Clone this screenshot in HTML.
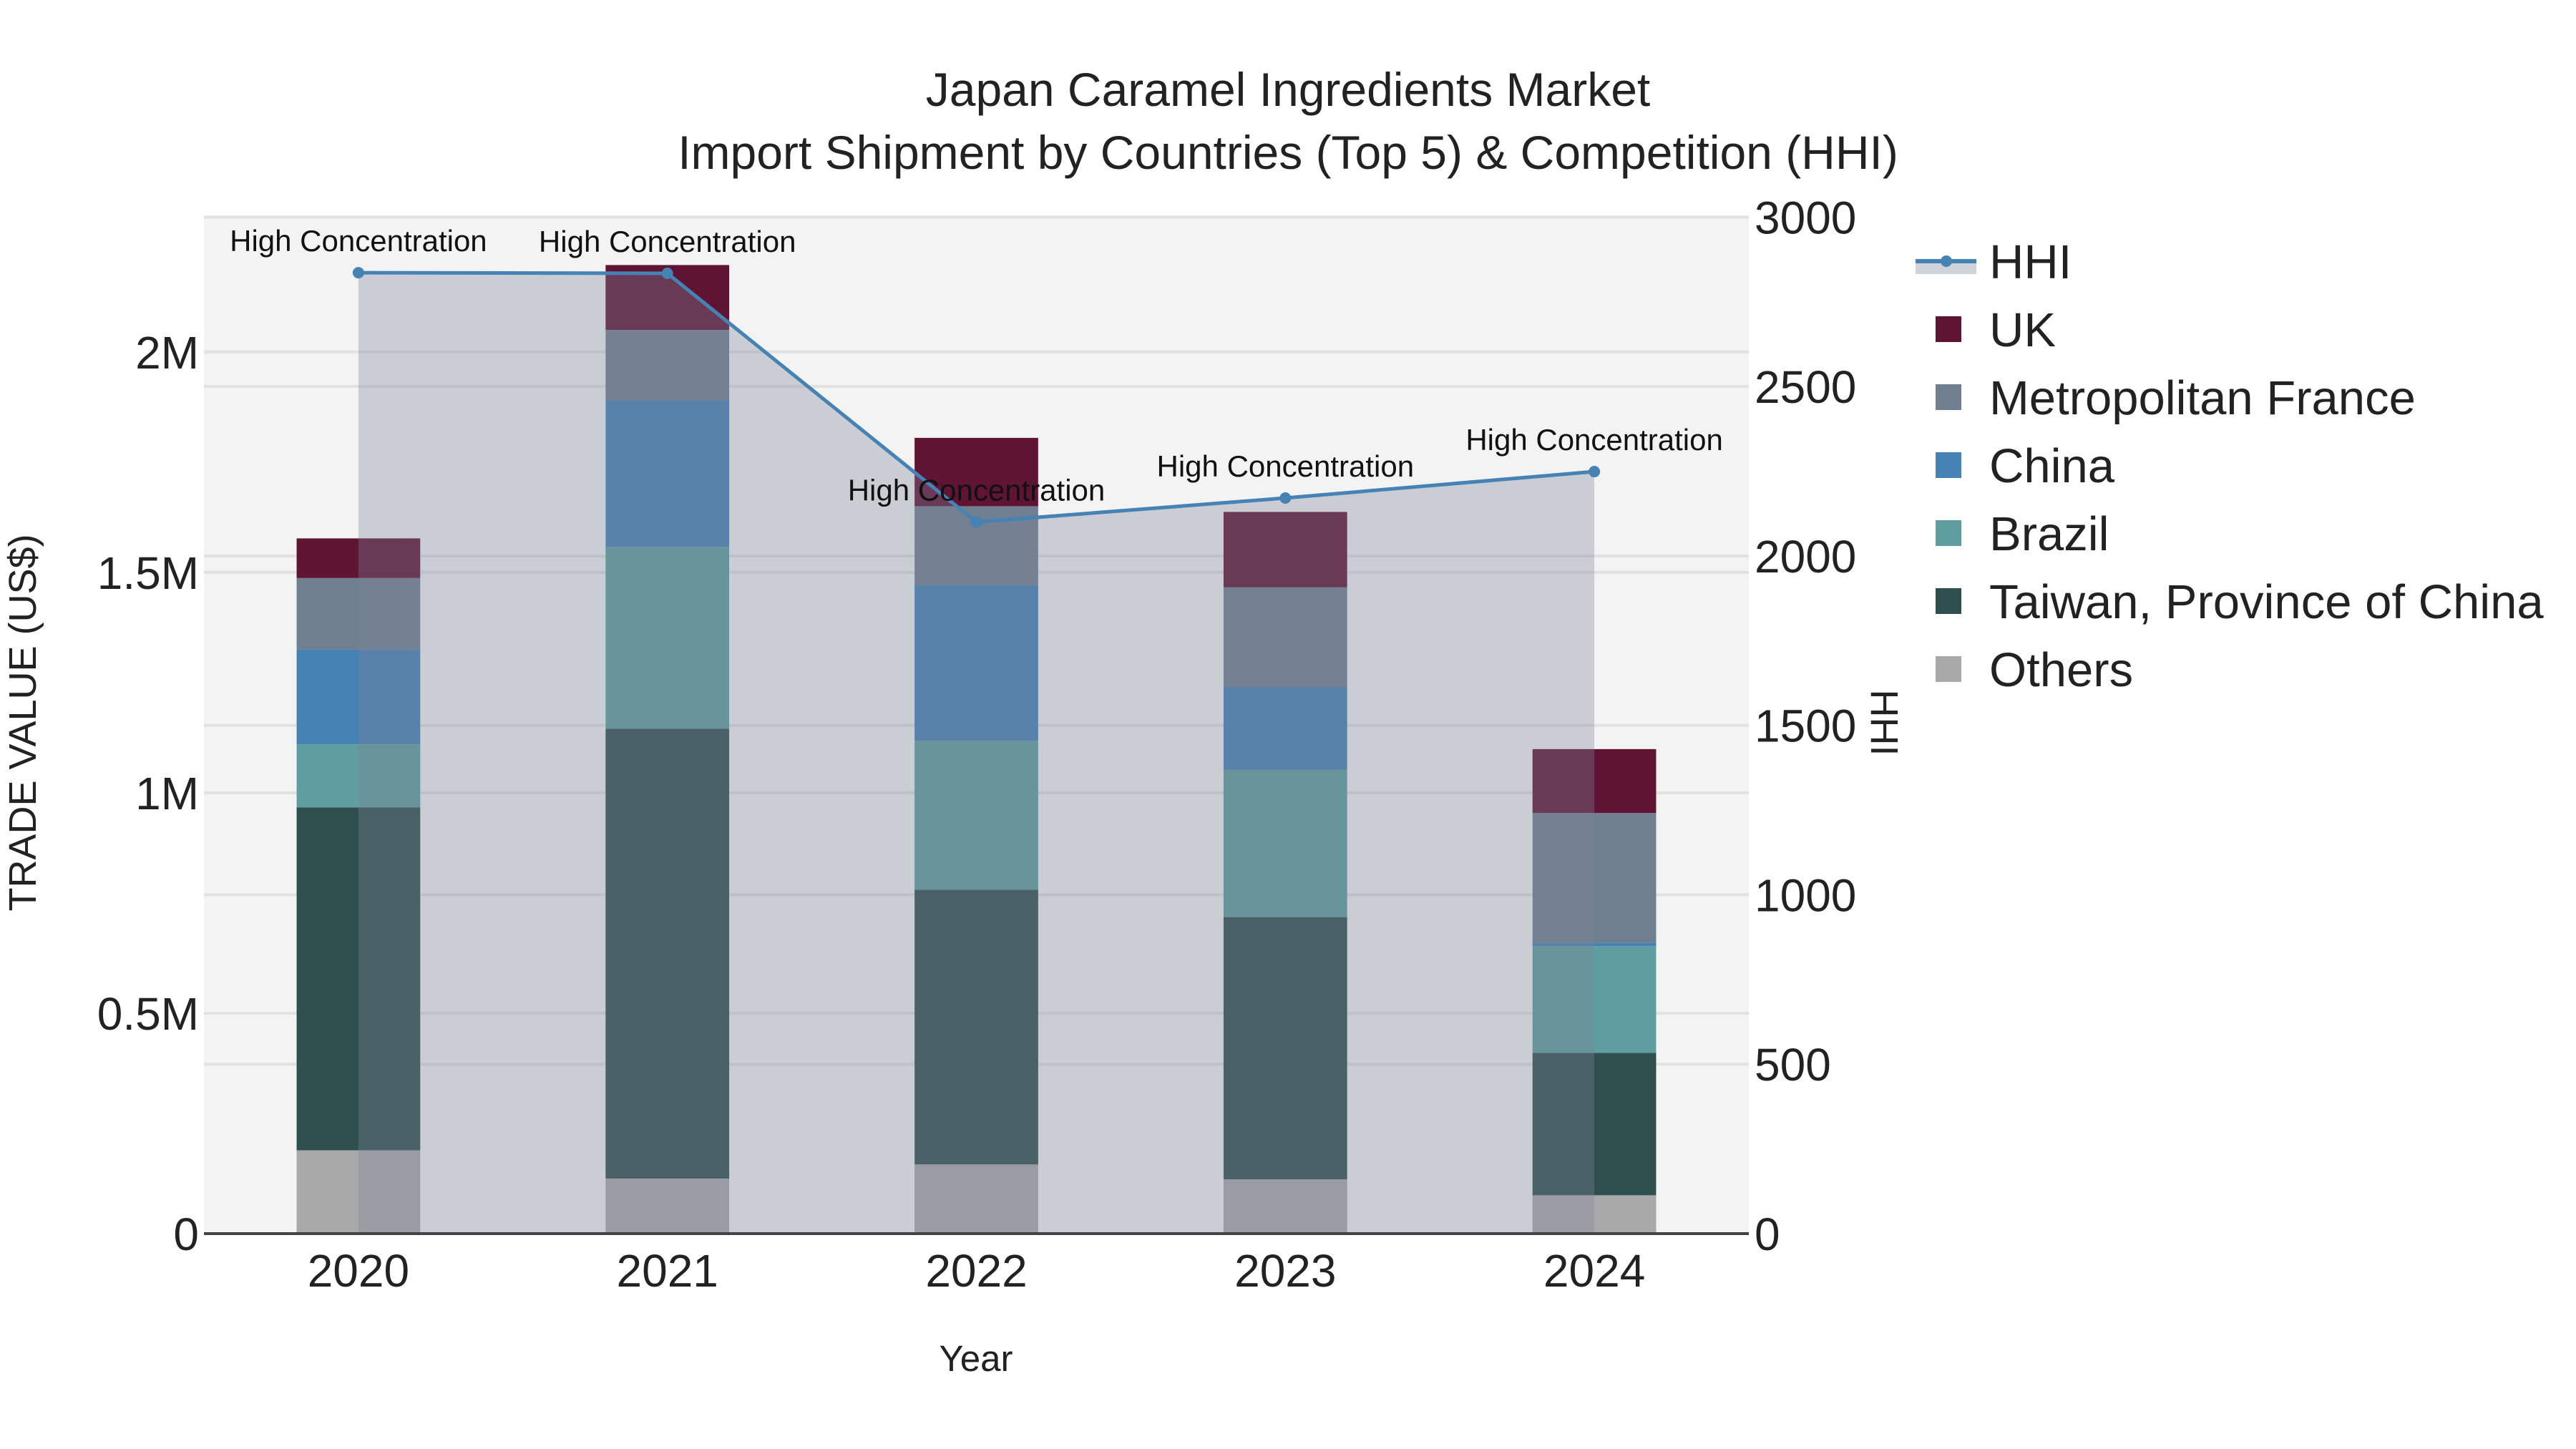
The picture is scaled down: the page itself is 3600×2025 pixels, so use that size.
<!DOCTYPE html>
<html><head><meta charset="utf-8">
<style>
html,body{margin:0;padding:0;background:#fff;}
svg{display:block;font-family:"Liberation Sans",sans-serif;}
</style></head>
<body>
<svg id="chart" width="3600" height="2025" viewBox="0 0 3600 2025" xmlns="http://www.w3.org/2000/svg">
<text x="1800" y="148" font-size="66" text-anchor="middle" fill="#222">Japan Caramel Ingredients Market</text>
<text x="1800" y="236" font-size="66" text-anchor="middle" fill="#222">Import Shipment by Countries (Top 5) &amp; Competition (HHI)</text>
<rect x="285" y="302" width="2159" height="1422" fill="#f3f3f3"/>
<g id="grid"></g>
<g id="bars"></g>
<g id="hhi"></g>
<g id="axes"></g>
<text transform="translate(50,1010) rotate(-90)" font-size="54" text-anchor="middle" fill="#222">TRADE VALUE (US$)</text>
<text transform="translate(2615,1010) rotate(90)" font-size="54" text-anchor="middle" fill="#222">HHI</text>
<text x="1364" y="1916" font-size="51" text-anchor="middle" fill="#222">Year</text>
<g id="legend"></g>
</svg>
<script>
const years = ['2020','2021','2022','2023','2024'];
const others = [0.189, 0.125, 0.157, 0.123, 0.087];
const taiwan = [0.778, 1.020, 0.623, 0.595, 0.323];
const brazil = [0.143, 0.412, 0.338, 0.334, 0.242];
const china = [0.215, 0.333, 0.353, 0.188, 0.008];
const france = [0.162, 0.160, 0.179, 0.226, 0.294];
const uk = [0.090, 0.147, 0.155, 0.171, 0.145];
const hhi = [2836, 2834, 2100, 2171, 2249];
const hhiLabels = ['High Concentration','High Concentration','High Concentration','High Concentration','High Concentration'];
const yTicks = [0, 0.5, 1, 1.5, 2];
const yTickLabels = ['0','0.5M','1M','1.5M','2M'];
const y2Ticks = [0, 500, 1000, 1500, 2000, 2500, 3000];

const NS='http://www.w3.org/2000/svg';
const L=285, R=2444, T=302, B=1724;
const yMax=2.308, y2Max=3003;
const band=(R-L)/years.length, barW=band*0.4;
const xOf=i=>L+band*(i+0.5);
const yOf=v=>B-(v/yMax)*(B-T);
const y2Of=v=>B-(v/y2Max)*(B-T);
function mk(tag,attrs,parent){const e=document.createElementNS(NS,tag);for(const k in attrs)e.setAttribute(k,attrs[k]);parent.appendChild(e);return e;}

const grid=document.getElementById('grid');
yTicks.forEach(v=>{const g=mk('line',{x1:L,x2:R,y1:yOf(v),y2:yOf(v),stroke:'#e1e1e1','stroke-width':4},grid);

});
y2Ticks.forEach(v=>{const g=mk('line',{x1:L,x2:R,y1:y2Of(v),y2:y2Of(v),stroke:'#e1e1e1','stroke-width':4},grid);

});

const series=[
 {name:'Others',vals:others,color:'#a9a9a9'},
 {name:'Taiwan, Province of China',vals:taiwan,color:'#2f4f4f'},
 {name:'Brazil',vals:brazil,color:'#5f9ea0'},
 {name:'China',vals:china,color:'#4682b4'},
 {name:'Metropolitan France',vals:france,color:'#708090'},
 {name:'UK',vals:uk,color:'#601434'}
];
const bars=document.getElementById('bars');
years.forEach((y,i)=>{let base=0;
 series.forEach(s=>{const v=s.vals[i];
  const r=mk('rect',{x:xOf(i)-barW/2,y:yOf(base+v),width:barW,height:yOf(base)-yOf(base+v),fill:s.color},bars);
  
  
  base+=v;});
});

const hg=document.getElementById('hhi');
let pts=hhi.map((v,i)=>xOf(i)+','+y2Of(v)).join(' ');
const area=mk('polygon',{points:xOf(0)+','+B+' '+pts+' '+xOf(hhi.length-1)+','+B,fill:'rgb(122,132,150)','fill-opacity':0.34},hg);


const line=mk('polyline',{points:pts,fill:'none',stroke:'#4682b4','stroke-width':5},hg);


hhi.forEach((v,i)=>{const c=mk('circle',{cx:xOf(i),cy:y2Of(v),r:8,fill:'#4682b4'},hg);
 
 
 const t=mk('text',{x:xOf(i),y:y2Of(v)-30,'font-size':42,'text-anchor':'middle',fill:'#111'},hg);
 t.textContent=hhiLabels[i];
 
 });

const ax=document.getElementById('axes');
const zl=mk('line',{x1:L,x2:R,y1:B,y2:B,stroke:'#444','stroke-width':4},ax);


yTicks.forEach((v,i)=>{const t=mk('text',{x:278,y:yOf(v)+23,'font-size':64,'text-anchor':'end',fill:'#222'},ax);
 t.textContent=yTickLabels[i];
 
 });
y2Ticks.forEach(v=>{const t=mk('text',{x:2452,y:y2Of(v)+23,'font-size':64,'text-anchor':'start',fill:'#222'},ax);
 t.textContent=String(v);
 
 });
years.forEach((y,i)=>{const t=mk('text',{x:xOf(i),y:1798,'font-size':64,'text-anchor':'middle',fill:'#222'},ax);
 t.textContent=y;
 
 });

const lg=document.getElementById('legend');
const hl=mk('g',{},lg);


mk('rect',{x:2677,y:365,width:85,height:18,fill:'#cfd3da'},hl);
mk('line',{x1:2677,x2:2762,y1:365,y2:365,stroke:'#4682b4','stroke-width':6},hl);
mk('circle',{cx:2720,cy:365,r:8,fill:'#4682b4'},hl);
const ht=mk('text',{x:2780,y:389,'font-size':67,fill:'#222'},hl);ht.textContent='HHI';
series.slice().reverse().forEach((s,k)=>{const cy=365+95*(k+1);
 const g=mk('g',{},lg);
 
 
 mk('rect',{x:2705,y:cy-18,width:36,height:36,fill:s.color},g);
 const t=mk('text',{x:2780,y:cy+24,'font-size':67,fill:'#222'},g);t.textContent=s.name;});
</script>
</body></html>
